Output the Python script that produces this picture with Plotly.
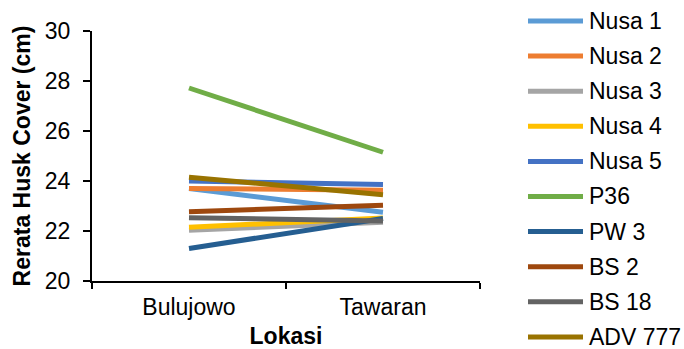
import plotly.graph_objects as go

# Mean husk cover (cm) per variety at two locations
lokasi = ["Bulujowo", "Tawaran"]
varietas = ["Nusa 1", "Nusa 2", "Nusa 3", "Nusa 4", "Nusa 5",
            "P36", "PW 3", "BS 2", "BS 18", "ADV 777"]
nilai = [
    [23.70, 22.75],  # Nusa 1
    [23.70, 23.63],  # Nusa 2
    [22.03, 22.35],  # Nusa 3
    [22.15, 22.52],  # Nusa 4
    [24.00, 23.86],  # Nusa 5
    [27.72, 25.15],  # P36
    [21.30, 22.50],  # PW 3
    [22.77, 23.03],  # BS 2
    [22.53, 22.40],  # BS 18
    [24.15, 23.45],  # ADV 777
]
warna = ["#5B9BD5", "#ED7D31", "#A5A5A5", "#FFC000", "#4472C4",
         "#70AD47", "#255E91", "#9E480E", "#636363", "#997300"]

W, H = 684, 349
ML, MR, MT, MB = 92, 204, 31, 68
pw, ph = W - ML - MR, H - MT - MB
FONT = "Liberation Sans, Arial, sans-serif"
FS = 23

fig = go.Figure()
for nama, y, c in zip(varietas, nilai, warna):
    fig.add_trace(go.Scatter(
        x=lokasi, y=y, name=nama, mode="lines",
        line=dict(color=c, width=5), showlegend=False,
    ))

# Legend drawn on the right: a short coloured line and the variety name
leg_x0, leg_x1, leg_tx = 528, 583, 587
leg_top, leg_step = 21, 35.1
shapes, annotations = [], []
for i, (nama, c) in enumerate(zip(varietas, warna)):
    py = leg_top + i * leg_step
    yp = (H - MB - py) / ph
    shapes.append(dict(
        type="line", xref="paper", yref="paper",
        x0=(leg_x0 - ML) / pw, x1=(leg_x1 - ML) / pw, y0=yp, y1=yp,
        line=dict(color=c, width=5),
    ))
    annotations.append(dict(
        xref="paper", yref="paper", x=(leg_tx - ML) / pw, y=yp,
        xanchor="left", yanchor="middle", text=nama, showarrow=False,
        font=dict(family=FONT, size=FS, color="#000000"),
    ))

fig.update_layout(
    width=W, height=H,
    margin=dict(l=ML, r=MR, t=MT, b=MB, autoexpand=False),
    plot_bgcolor="white", paper_bgcolor="white",
    font=dict(family=FONT, size=FS, color="#000000"),
    showlegend=False,
    shapes=shapes, annotations=annotations,
    xaxis=dict(
        type="category", range=[-0.5, 1.5],
        showline=True, linecolor="black", linewidth=2,
        ticks="outside", tickson="boundaries", ticklen=6,
        tickcolor="black", tickwidth=2, ticklabelstandoff=4,
        showgrid=False, zeroline=False,
        title=dict(text="<b>Lokasi</b>", standoff=14, font=dict(size=FS)),
    ),
    yaxis=dict(
        range=[20, 30], dtick=2, tick0=20,
        showline=True, linecolor="black", linewidth=2,
        ticks="outside", ticklen=7, tickcolor="black", tickwidth=2,
        ticklabelstandoff=8,
        showgrid=False, zeroline=False,
        title=dict(text="<b>Rerata Husk Cover (cm)</b>", standoff=8,
                   font=dict(size=FS)),
    ),
)

fig.write_html("out.html")
